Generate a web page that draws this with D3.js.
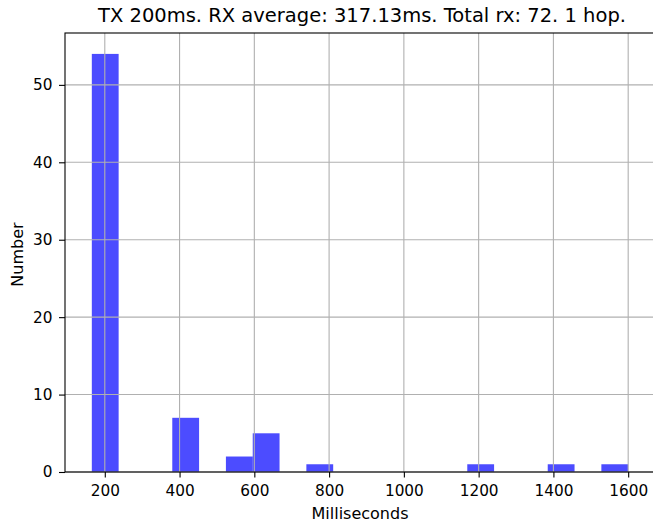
<!DOCTYPE html>
<html>
<head>
<meta charset="utf-8">
<script src="https://cdn.jsdelivr.net/npm/d3@7"></script>
<style>
  html, body { margin: 0; padding: 0; background: #fff; }
  svg { display: block; font-family: "DejaVu Sans", sans-serif; }
</style>
</head>
<body>
<svg id="chart" width="653" height="528"></svg>
<script>
// ---- data ----
const title = "TX 200ms. RX average: 317.13ms. Total rx: 72. 1 hop.";
const xLabel = "Milliseconds";
const yLabel = "Number";
const dataMin = 165.3;
const dataMax = 1600;
const binCount = 20;
const counts = [54, 0, 0, 7, 0, 2, 5, 0, 1, 0, 0, 0, 0, 0, 1, 0, 0, 1, 0, 1];
const xTicks = [200, 400, 600, 800, 1000, 1200, 1400, 1600];
const yTicks = [0, 10, 20, 30, 40, 50];

// ---- layout ----
const mLeft = 65, mRight = 655, mTop = 33, mBottom = 472;
const svg = d3.select("#chart");

const span = dataMax - dataMin;
const x = d3.scaleLinear()
  .domain([dataMin - 0.05 * span, dataMax + 0.05 * span])
  .range([mLeft, mRight]);
const y = d3.scaleLinear()
  .domain([0, d3.max(counts) * 1.05])
  .range([mBottom, mTop]);

const binW = span / binCount;
const bins = counts.map((c, i) => ({ x0: dataMin + i * binW, x1: dataMin + (i + 1) * binW, c }));

// bars
svg.append("g").selectAll("rect").data(bins.filter(d => d.c > 0)).join("rect")
  .attr("x", d => x(d.x0))
  .attr("width", d => x(d.x1) - x(d.x0))
  .attr("y", d => y(d.c))
  .attr("height", d => y(0) - y(d.c))
  .attr("fill", "#0000ff")
  .attr("fill-opacity", 0.7);

// grid (drawn above patches as in matplotlib default)
const grid = svg.append("g").attr("stroke", "#b0b0b0").attr("stroke-width", 1.1);
grid.selectAll("line.gx").data(xTicks).join("line").attr("class", "gx")
  .attr("x1", d => x(d)).attr("x2", d => x(d))
  .attr("y1", mTop).attr("y2", mBottom);
grid.selectAll("line.gy").data(yTicks).join("line").attr("class", "gy")
  .attr("x1", mLeft).attr("x2", mRight)
  .attr("y1", d => y(d)).attr("y2", d => y(d));

// axes
const xAxis = d3.axisBottom(x).tickValues(xTicks).tickSize(5.5).tickPadding(8).tickFormat(d3.format("d"));
const yAxis = d3.axisLeft(y).tickValues(yTicks).tickSize(6).tickPadding(6.5).tickFormat(d3.format("d"));

const gx = svg.append("g").attr("transform", `translate(0,${mBottom})`).call(xAxis);
const gy = svg.append("g").attr("transform", `translate(${mLeft},0)`).call(yAxis);
[gx, gy].forEach(g => {
  g.select(".domain").remove();
  g.selectAll(".tick line").attr("stroke", "#000").attr("stroke-width", 1.1);
  g.selectAll(".tick text").attr("fill", "#000").attr("font-size", 15.3)
    .attr("font-family", "DejaVu Sans, sans-serif");
});

// spines
svg.append("rect")
  .attr("x", mLeft).attr("y", mTop)
  .attr("width", mRight - mLeft).attr("height", mBottom - mTop)
  .attr("fill", "none").attr("stroke", "#000").attr("stroke-width", 1.1);

// labels
svg.append("text").attr("x", (mLeft + mRight) / 2 + 2).attr("y", 21.5)
  .attr("text-anchor", "middle").attr("font-size", 19.5).text(title);
svg.append("text").attr("x", (mLeft + mRight) / 2).attr("y", 519)
  .attr("text-anchor", "middle").attr("font-size", 16).text(xLabel);
svg.append("text")
  .attr("transform", `translate(22.5,${(mTop + mBottom) / 2 + 2}) rotate(-90)`)
  .attr("text-anchor", "middle").attr("font-size", 16).text(yLabel);
</script>
</body>
</html>
